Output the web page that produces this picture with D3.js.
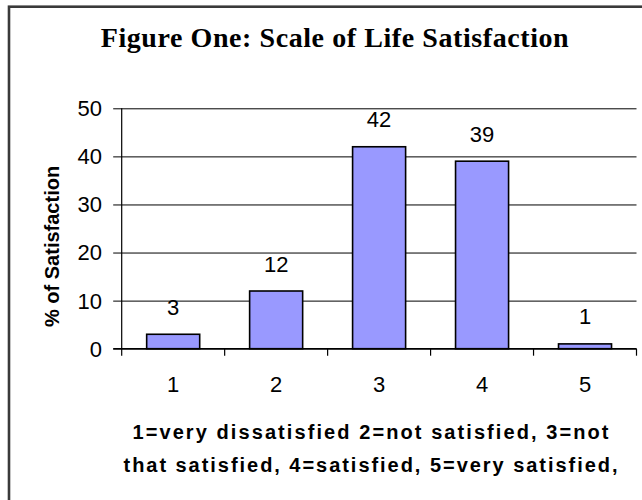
<!DOCTYPE html>
<html>
<head>
<meta charset="utf-8">
<script src="https://cdn.jsdelivr.net/npm/d3@7"></script>
<style>
  html, body { margin: 0; padding: 0; background: #fff; }
  svg { display: block; }
</style>
</head>
<body>
<svg id="chart" width="642" height="500"></svg>
<script>
// ---- data ----
const categories = ["1", "2", "3", "4", "5"];
const values = [3, 12, 42, 39, 1];
const yTicks = [0, 10, 20, 30, 40, 50];
const title = "Figure One: Scale of Life Satisfaction";
const yTitle = "% of Satisfaction";
const xTitleLines = [
  "1=very dissatisfied 2=not satisfied, 3=not",
  "that satisfied, 4=satisfied, 5=very satisfied,"
];

// ---- layout ----
const svg = d3.select("#chart");
const plot = { left: 121.7, right: 636.5, top: 108.3, bottom: 348.7 };
const numFont = 22;

// frame
svg.append("rect")
  .attr("x", 9).attr("y", 6.7)
  .attr("width", 700).attr("height", 600)
  .attr("fill", "none").attr("stroke", "#3a3a3a").attr("stroke-width", 2.6);

const x = d3.scaleBand()
  .domain(categories)
  .range([plot.left, plot.right])
  .paddingInner(0.485)
  .paddingOuter(0.2425);

const y = d3.scaleLinear().domain([0, 50]).range([plot.bottom, plot.top]);

// gridlines (ticks extend left of axis)
const yAxis = d3.axisLeft(y).tickValues(yTicks).tickSize(-(plot.right - plot.left)).tickFormat("");
const gy = svg.append("g").attr("transform", `translate(${plot.left},0)`).call(yAxis);
gy.select(".domain").remove();
gy.selectAll(".tick line")
  .attr("x1", -8.5)
  .attr("stroke", "#000").attr("stroke-width", 1);

// y tick labels
svg.append("g").selectAll("text").data(yTicks).join("text")
  .attr("x", 102).attr("y", d => y(d))
  .attr("dy", "0.36em")
  .attr("text-anchor", "end")
  .attr("font-family", "Liberation Sans, Arial, sans-serif")
  .attr("font-size", numFont)
  .attr("fill", "#000")
  .text(d => d);

// bars
svg.append("g").selectAll("rect").data(values).join("rect")
  .attr("x", (d, i) => x(categories[i]))
  .attr("y", d => y(d))
  .attr("width", x.bandwidth())
  .attr("height", d => y(0) - y(d))
  .attr("fill", "#9999ff")
  .attr("stroke", "#000").attr("stroke-width", 1.6);

// bar value labels
svg.append("g").selectAll("text").data(values).join("text")
  .attr("x", (d, i) => x(categories[i]) + x.bandwidth() / 2)
  .attr("y", d => y(d) - 19.5)
  .attr("text-anchor", "middle")
  .attr("font-family", "Liberation Sans, Arial, sans-serif")
  .attr("font-size", numFont)
  .attr("fill", "#000")
  .text(d => d);

// y axis line
svg.append("line")
  .attr("x1", plot.left).attr("x2", plot.left)
  .attr("y1", plot.top).attr("y2", plot.bottom + 7)
  .attr("stroke", "#000").attr("stroke-width", 1.2);

// x axis line + ticks at band boundaries
svg.append("line")
  .attr("x1", plot.left - 8.5).attr("x2", plot.right)
  .attr("y1", plot.bottom).attr("y2", plot.bottom)
  .attr("stroke", "#000").attr("stroke-width", 1.2);
const bounds = categories.map(c => x(c) - (x.step() - x.bandwidth()) / 2).concat([plot.right]);
svg.append("g").selectAll("line").data(bounds.slice(1)).join("line")
  .attr("x1", d => d).attr("x2", d => d)
  .attr("y1", plot.bottom).attr("y2", plot.bottom + 7)
  .attr("stroke", "#000").attr("stroke-width", 1.2);

// x tick labels
svg.append("g").selectAll("text").data(categories).join("text")
  .attr("x", d => x(d) + x.bandwidth() / 2)
  .attr("y", 391.5)
  .attr("text-anchor", "middle")
  .attr("font-family", "Liberation Sans, Arial, sans-serif")
  .attr("font-size", numFont)
  .attr("fill", "#000")
  .text(d => d);

// title
svg.append("text")
  .attr("x", 100.7).attr("y", 46.7)
  .attr("text-anchor", "start")
  .attr("font-family", "Liberation Serif, Times New Roman, serif")
  .attr("font-weight", "bold")
  .attr("font-size", 28)
  .attr("fill", "#000")
  .attr("textLength", 468)
  .attr("lengthAdjust", "spacing")
  .text(title);

// y axis title
svg.append("text")
  .attr("transform", "translate(59,327) rotate(-90)")
  .attr("text-anchor", "start")
  .attr("font-family", "Liberation Sans, Arial, sans-serif")
  .attr("font-weight", "bold")
  .attr("font-size", 20)
  .attr("fill", "#000")
  .text(yTitle);

// x axis title (two lines)
const xtWidths = [476, 494];
svg.append("g").selectAll("text").data(xTitleLines).join("text")
  .attr("x", 370.5)
  .attr("y", (d, i) => 439.3 + i * 32.5)
  .attr("text-anchor", "middle")
  .attr("font-family", "Liberation Sans, Arial, sans-serif")
  .attr("font-weight", "bold")
  .attr("font-size", 20)
  .attr("fill", "#000")
  .attr("textLength", (d, i) => xtWidths[i])
  .attr("lengthAdjust", "spacing")
  .text(d => d);
</script>
</body>
</html>
